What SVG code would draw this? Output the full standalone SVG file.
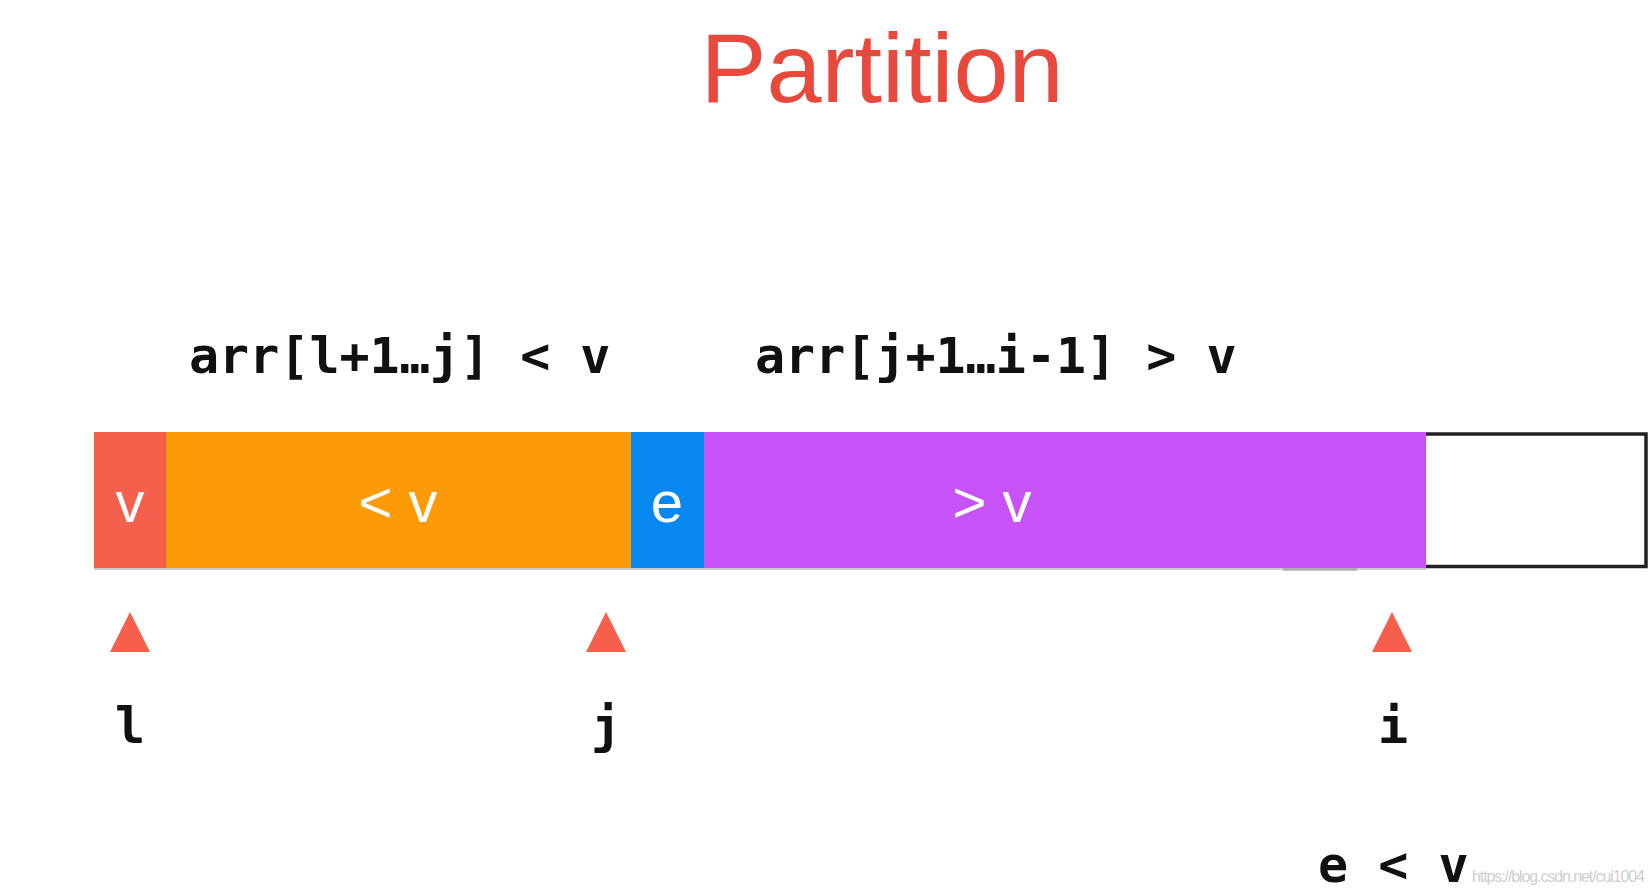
<svg xmlns="http://www.w3.org/2000/svg" width="1649" height="895" viewBox="0 0 1649 895">
<style>
.code{font-family:"DejaVu Sans Mono","Liberation Mono",monospace;font-weight:bold;font-size:50px;fill:#111}
.cell{font-family:"Liberation Sans",Arial,sans-serif;font-size:58px;fill:#ffffff;text-anchor:middle}
.ptr{fill:#F55F4C}
.lbl{text-anchor:middle}
</style>
<rect x="0" y="0" width="1649" height="895" fill="#ffffff"/>
<g id="title">
<text x="882" y="102" text-anchor="middle" font-family="'Liberation Sans',Arial,sans-serif" font-size="99" fill="#E8493D">Partition</text>
</g>
<g id="range-left">
<text class="code" x="189" y="373">arr[l+1…j] &lt; v</text>
</g>
<g id="range-right">
<text class="code" x="755" y="373">arr[j+1…i-1] &gt; v</text>
</g>
<g id="cell-v">
<rect x="94" y="432" width="72" height="136" fill="#F5604C"/>
<text class="cell" x="130" y="522">v</text>
</g>
<g id="cell-less">
<rect x="166" y="432" width="465" height="136" fill="#FD9A08"/>
<text class="cell" x="398" y="522" fill="#FFF6E8">&lt; v</text>
</g>
<g id="cell-e">
<rect x="631" y="432" width="73" height="136" fill="#0788F0"/>
<text class="cell" x="667" y="522">e</text>
</g>
<g id="cell-greater">
<rect x="704" y="432" width="722" height="136" fill="#C652F8"/>
<text class="cell" x="992" y="522">&gt; v</text>
</g>
<g id="cell-unknown">
<path d="M1426 434 H1646 V566.5 H1426" fill="#ffffff" stroke="#222" stroke-width="3.5"/>
</g>
<g id="bar-shadow">
<rect x="94" y="568" width="1332" height="2" fill="#8c8c8c" opacity="0.45"/>
<rect x="1283" y="568" width="74" height="3" fill="#8c8c8c" opacity="0.5"/>
</g>
<g id="pointer-l">
<polygon class="ptr" points="130,612 110,652 150,652"/>
<text class="code lbl" x="130" y="743">l</text>
</g>
<g id="pointer-j">
<polygon class="ptr" points="606,612 586,652 626,652"/>
<text class="code lbl" x="606" y="743">j</text>
</g>
<g id="pointer-i">
<polygon class="ptr" points="1392,612 1372,652 1412,652"/>
<text class="code lbl" x="1393" y="743">i</text>
</g>
<g id="condition">
<text class="code" x="1318" y="882">e &lt; v</text>
</g>
<g id="watermark">
<text x="1472" y="882" font-family="'Liberation Sans',Arial,sans-serif" font-size="16" fill="#cfcfcf" textLength="173">https://blog.csdn.net/cui1004</text>
</g>
<g id="connectors"></g>
</svg>
